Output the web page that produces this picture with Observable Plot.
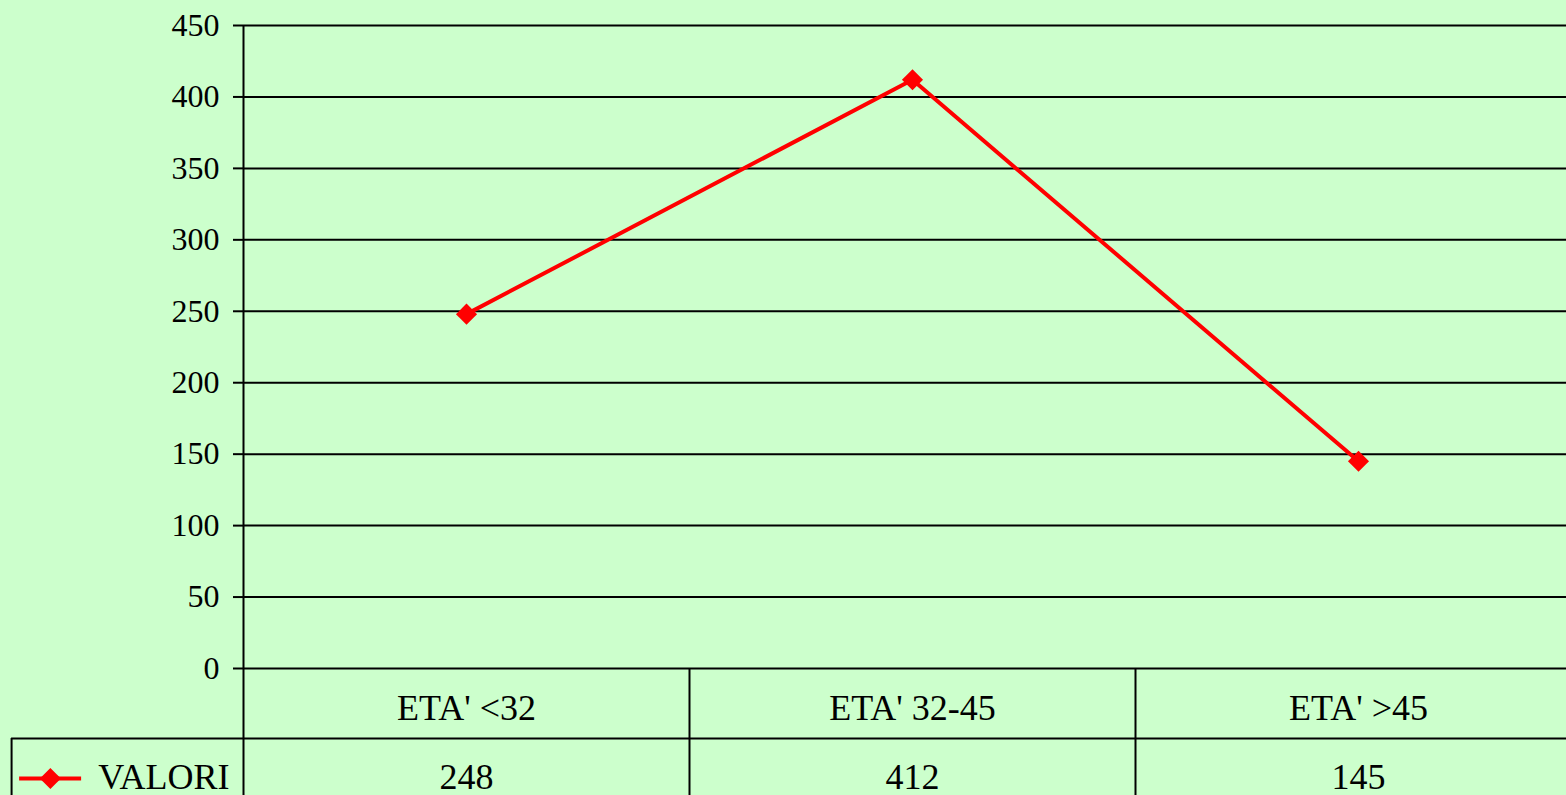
<!DOCTYPE html>
<html>
<head>
<meta charset="utf-8">
<script src="https://cdn.jsdelivr.net/npm/d3@7"></script>
<script src="https://cdn.jsdelivr.net/npm/@observablehq/plot@0.6"></script>
<style>
  html, body { margin: 0; padding: 0; background: #CCFFCC; overflow: hidden; }
  #chart svg { display: block; }
</style>
</head>
<body>
<div id="chart"></div>
<script>
// Data
const categories = ["ETA' <32", "ETA' 32-45", "ETA' >45"];
const values = [248, 412, 145];
const seriesName = "VALORI";
const yTicks = [0, 50, 100, 150, 200, 250, 300, 350, 400, 450];

const data = categories.map((c, i) => ({i, c, v: values[i]}));

// Table layout (in category-index / value units)
const colEdges = [0.5, 1.5, 2.5];
const legendLeft = -1.02;
const headerBottom = -49;
const tableBottom = -100;

const chart = Plot.plot({
  width: 1566,
  height: 795,
  marginLeft: 243,
  marginRight: 0,
  marginTop: 25,
  marginBottom: 127,
  style: {background: "#CCFFCC", fontFamily: "'Liberation Serif', 'Times New Roman', serif", color: "black", overflow: "visible"},
  x: {type: "linear", domain: [-0.5, 2.5], range: [243, 1581], axis: null},
  y: {domain: [0, 450]},
  marks: [
    Plot.gridY(yTicks, {stroke: "black", strokeOpacity: 1, strokeWidth: 2}),
    Plot.axisY(yTicks, {tickSize: 10, tickPadding: 14, fontSize: 32, strokeWidth: 2, label: null}),
    // vertical axis line continuing through the table
    Plot.ruleX([-0.5], {y1: 450, y2: tableBottom, stroke: "black", strokeWidth: 2}),
    // table column dividers
    Plot.ruleX(colEdges, {y1: 0, y2: tableBottom, stroke: "black", strokeWidth: 2}),
    // table row line
    Plot.ruleY([headerBottom], {x1: legendLeft, x2: 2.5, stroke: "black", strokeWidth: 2}),
    // legend cell left border
    Plot.ruleX([legendLeft], {y1: headerBottom, y2: tableBottom, stroke: "black", strokeWidth: 2}),
    // series
    Plot.line(data, {x: "i", y: "v", stroke: "#FF0000", strokeWidth: 4}),
    Plot.dot(data, {x: "i", y: "v", symbol: "diamond2", r: 9.5, fill: "#FF0000", stroke: "none"}),
    // table header & values
    Plot.text(data, {x: "i", text: "c", frameAnchor: "bottom", lineAnchor: "middle", dy: 39.5, fontSize: 36, fill: "black"}),
    Plot.text(data, {x: "i", text: d => String(d.v), frameAnchor: "bottom", lineAnchor: "middle", dy: 108.5, fontSize: 36, fill: "black"}),
    // legend key
    Plot.ruleY([0], {x1: -1.002, x2: -0.863, dy: 110, stroke: "#FF0000", strokeWidth: 4}),
    Plot.dot([-0.933], {x: d => d, frameAnchor: "bottom", dy: 110, symbol: "diamond2", r: 9.5, fill: "#FF0000", stroke: "none"}),
    Plot.text([seriesName], {x: () => -0.5, text: d => d, frameAnchor: "bottom", lineAnchor: "middle", dx: -14, dy: 108.5, textAnchor: "end", fontSize: 36, fill: "black"})
  ]
});
document.getElementById("chart").appendChild(chart);
</script>
</body>
</html>
